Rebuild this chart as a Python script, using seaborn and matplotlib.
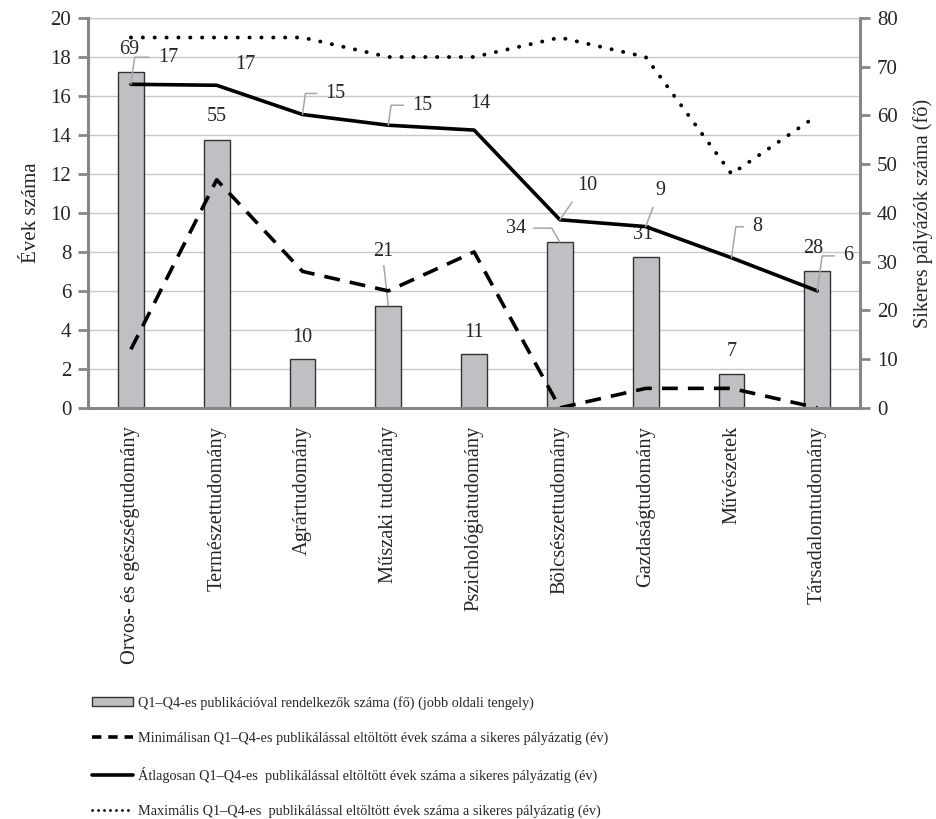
import numpy as np
import pandas as pd
import seaborn as sns
from matplotlib import pyplot as plt
from matplotlib.patches import Patch
from matplotlib.lines import Line2D

# %%
# data
categories = ['Orvos- és egészségtudomány', 'Természettudomány', 'Agrártudomány',
              'Műszaki tudomány', 'Pszichológiatudomány', 'Bölcsészettudomány',
              'Gazdaságtudomány', 'Művészetek', 'Társadalomtudomány']
applicants = [69, 55, 10, 21, 11, 34, 31, 7, 28]
years_min = [3, 11.7, 7, 6, 8, 0, 1, 1, 0]
years_avg = [16.6, 16.55, 15.05, 14.5, 14.25, 9.65, 9.3, 7.7, 6.0]
years_max = [19, 19, 19, 18, 18, 19, 18, 12, 15]
avg_labels = ['17', '17', '15', '15', '14', '10', '9', '8', '6']

legend_labels = [
    'Q1–Q4-es publikációval rendelkezők száma (fő) (jobb oldali tengely)',
    'Minimálisan Q1–Q4-es publikálással eltöltött évek száma a sikeres pályázatig (év)',
    'Átlagosan Q1–Q4-es  publikálással eltöltött évek száma a sikeres pályázatig (év)',
    'Maximális Q1–Q4-es  publikálással eltöltött évek száma a sikeres pályázatig (év)',
]

# label placement (pixels from the point), leader line style
bar_offsets = [(-2, 22), (0, 23), (0, 22), (-5, 54), (0, 22), (-44, 14), (-3, 22), (0, 22), (-4, 23)]
bar_leader = [None, None, None, 'vert', None, 'left', None, None, None]
avg_offsets = [(37, 27), (29, 21), (33, 21), (34, 20), (6, 27), (27, 34), (15, 36), (26, 31), (31, 35)]
avg_leader = ['angle', None, 'angle', 'angle', None, 'diag', 'diag', 'angle', 'angle']

# %%
sns.set_style('white')
plt.rcParams['font.family'] = ['Liberation Serif', 'DejaVu Serif']

df = pd.DataFrame({'cat': categories, 'pos': np.arange(len(categories)),
                   'n': applicants, 'mn': years_min, 'avg': years_avg, 'mx': years_max})

fig = plt.figure(figsize=(9.36, 8.19), dpi=100)
ax = fig.add_axes([0.094, 0.502, 0.825, 0.476])
ax2 = ax.twinx()

grey = '#868686'
grid_c = '#c8c8c8'
dash_min = (0, (4.4, 2.8))
dot_max = (0, (0.05, 3.0))

# gridlines follow the left axis ticks, drawn behind the bars
for t in range(2, 21, 2):
    ax2.axhline(t * 4, color=grid_c, lw=1, zorder=0)

sns.barplot(data=df, x='pos', y='n', ax=ax2, width=0.3, color='#bfc0c3',
            edgecolor='#333333', linewidth=1, saturation=1, zorder=2)

sns.lineplot(data=df, x='pos', y='mx', ax=ax, color='black', lw=2.8,
             linestyle=dot_max, dash_capstyle='round')
sns.lineplot(data=df, x='pos', y='mn', ax=ax, color='black', lw=2.6,
             linestyle=dash_min)
sns.lineplot(data=df, x='pos', y='avg', ax=ax, color='black', lw=2.6)

ax.set_zorder(ax2.get_zorder() + 1)
ax.patch.set_visible(False)

ax.set_xlim(-0.5, len(categories) - 0.5)
ax.set_ylim(0, 20)
ax2.set_ylim(0, 80)
ax.set_yticks(range(0, 21, 2))
ax2.set_yticks(range(0, 81, 10))
ax.set_xticks(np.arange(len(categories)))
ax.set_xticklabels(categories, rotation=90, fontsize=14.7)
ax.set_xticks(np.arange(len(categories) + 1) - 0.5, minor=True)
ax.tick_params(axis='x', which='major', length=0, pad=13)
ax.tick_params(axis='x', which='minor', length=6, width=2, color=grey, direction='out')
ax.tick_params(axis='y', length=7, width=2, color=grey, labelsize=15, pad=5, left=True)
ax2.tick_params(axis='y', length=7, width=2, color=grey, labelsize=15, pad=5, right=True)
ax.set_xlabel('')
ax2.set_xlabel('')
ax.set_ylabel('Évek száma', fontsize=15, labelpad=7)
ax2.set_ylabel('Sikeres pályázók száma (fő)', fontsize=14.6, labelpad=11)

for a in (ax, ax2):
    a.spines['top'].set_visible(False)
    for s in ('left', 'right', 'bottom'):
        a.spines[s].set_color(grey)
        a.spines[s].set_linewidth(2.2)
ax2.spines['left'].set_visible(False)
ax.spines['right'].set_visible(False)
ax2.spines['bottom'].set_visible(False)
ax.axhline(20, color=grid_c, lw=1, zorder=0)

lead = dict(color='#a6a6a6', lw=1.1)

# bar labels (right axis values)
for i, v in enumerate(applicants):
    dx, dy = bar_offsets[i]
    kw = {}
    if bar_leader[i] == 'vert':
        kw['arrowprops'] = dict(arrowstyle='-', shrinkA=1, shrinkB=0, relpos=(0.5, 0), **lead)
    elif bar_leader[i] == 'left':
        kw['arrowprops'] = dict(arrowstyle='-', shrinkA=3, shrinkB=0, relpos=(1, 0.5),
                                connectionstyle='angle,angleA=0,angleB=120,rad=0', **lead)
    ax2.annotate(str(v), xy=(i, v), xytext=(dx, dy), textcoords='offset pixels',
                 ha='center', va='center', fontsize=14.5, zorder=5, **kw)

# average line labels
for i, v in enumerate(years_avg):
    dx, dy = avg_offsets[i]
    kw = {}
    if avg_leader[i] == 'angle':
        kw['arrowprops'] = dict(arrowstyle='-', shrinkA=4, shrinkB=0, relpos=(0, 0.5),
                                connectionstyle='angle,angleA=0,angleB=82,rad=0', **lead)
    elif avg_leader[i] == 'diag':
        kw['arrowprops'] = dict(arrowstyle='-', shrinkA=3, shrinkB=0, relpos=(0, 0),
                                **lead)
    ax.annotate(avg_labels[i], xy=(i, v), xytext=(dx, dy), textcoords='offset pixels',
                ha='center', va='center', fontsize=14.5, zorder=5, **kw)

# legend below the chart
handles = [
    Patch(facecolor='#bfc0c3', edgecolor='#333333', linewidth=1),
    Line2D([], [], color='black', lw=2.6, linestyle=(0, (2.6, 1.9))),
    Line2D([], [], color='black', lw=2.6),
    Line2D([], [], color='black', lw=2.0, linestyle=(0, (0.05, 2.1)), dash_capstyle='round'),
]
fig.legend(handles, legend_labels, loc='upper left', bbox_to_anchor=(0.092, 0.157),
           frameon=False, fontsize=10.3, handlelength=2.9, handleheight=0.6,
           handletextpad=0.3, labelspacing=1.5, borderaxespad=0)

fig.savefig('out.png', dpi=100)
